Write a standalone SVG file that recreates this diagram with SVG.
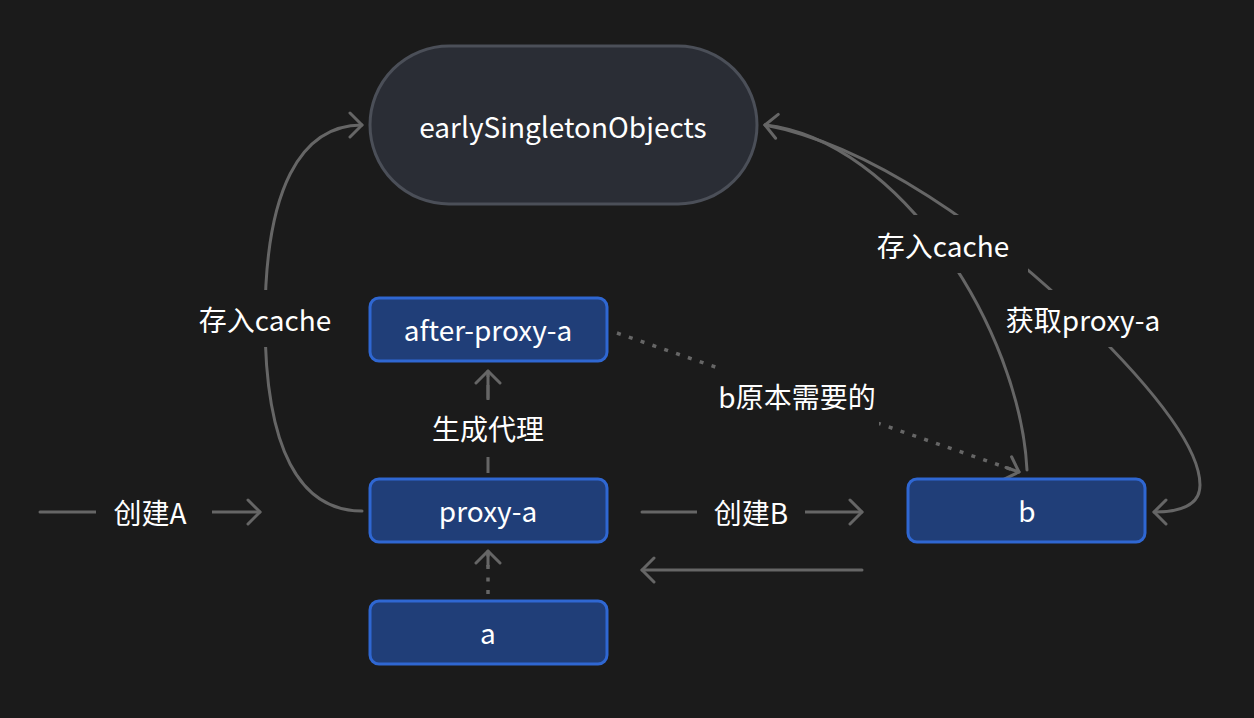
<svg xmlns="http://www.w3.org/2000/svg" width="1254" height="718" viewBox="0 0 1254 718">
<defs>
<style>
.bg{fill:#1b1b1b}
.edge{fill:none;stroke:#666;stroke-width:3;stroke-linecap:round}
.dot{stroke-dasharray:4 8.5;stroke-linecap:butt;stroke-width:3.5}
.dash{stroke-dasharray:16 8;stroke-linecap:butt}
.lbl{fill:#ffffff;font-family:"Noto Sans CJK SC","Noto Sans",sans-serif;font-size:28px;text-anchor:middle;dominant-baseline:central}
.lblbg{fill:#1b1b1b}
.box{fill:#203e78;stroke:#2f67d2;stroke-width:3}
.pill{fill:#2a2d35;stroke:#4b4f58;stroke-width:3}
.txt{fill:#ffffff;font-family:"Noto Sans CJK SC","Noto Sans",sans-serif;font-size:28px;text-anchor:middle;dominant-baseline:central}
</style>
<marker id="arr" markerUnits="userSpaceOnUse" viewBox="-14 -14 16 28" refX="0" refY="0" markerWidth="16" markerHeight="28" orient="auto">
<path d="M-12,-12 L0,0 L-12,12" fill="none" stroke="#666" stroke-width="3" stroke-linecap="round" stroke-linejoin="round"/>
</marker>
</defs>
<rect class="bg" x="0" y="0" width="1254" height="718"/>
<g id="connectors">
<path class="edge" d="M40,512 L260,512" marker-end="url(#arr)"/>
<path class="edge" d="M642,512 L862,512" marker-end="url(#arr)"/>
<path class="edge" d="M862,570 L642,570" marker-end="url(#arr)"/>
<path class="edge" d="M362,511 C300,511 265,450 265,320 C265,190 300,125 362,125" marker-end="url(#arr)"/>
<path class="edge dash" d="M488,473 L488,371"/>
<path class="edge" d="M488,398 L488,371" marker-end="url(#arr)"/>
<path class="edge dot" d="M488,594 L488,552"/>
<path class="edge" d="M488,566 L488,551" marker-end="url(#arr)"/>
<path class="edge dot" d="M617,333 L1019,472"/>
<path class="edge" d="M1006,467.5 L1019,472" marker-end="url(#arr)"/>
<path class="edge" d="M1027,470 C1020,330 900,140 765,125" marker-end="url(#arr)"/>
<path class="edge" d="M765,125 C870,145 990,230 1083,320 C1160,395 1200,450 1200,485 C1200,505 1180,512 1154,512" marker-end="url(#arr)"/>
<g class="label"><rect class="lblbg" x="96" y="495" width="116" height="34"/><text class="lbl" x="150" y="512">创建A</text></g>
<g class="label"><rect class="lblbg" x="697" y="495" width="108" height="34"/><text class="lbl" x="751" y="512">创建B</text></g>
<g class="label"><rect class="lblbg" x="420" y="400" width="136" height="55"/><text class="lbl" x="488" y="428">生成代理</text></g>
<g class="label"><rect class="lblbg" x="195" y="290" width="140" height="57"/><text class="lbl" x="265" y="319">存入cache</text></g>
<g class="label"><rect class="lblbg" x="858" y="215" width="170" height="58"/><text class="lbl" x="943" y="245">存入cache</text></g>
<g class="label"><rect class="lblbg" x="1000" y="290" width="168" height="57"/><text class="lbl" x="1083" y="319">获取proxy-a</text></g>
<g class="label"><rect class="lblbg" x="715" y="368" width="164" height="59"/><text class="lbl" x="797" y="396">b原本需要的</text></g>
</g>
<g id="node-early">
<rect class="pill" x="370" y="46" width="387" height="158" rx="79" ry="79"/>
<text class="txt" x="563" y="126">earlySingletonObjects</text>
</g>
<g id="node-after-proxy-a">
<rect class="box" x="370" y="298" width="237" height="63" rx="9" ry="9"/>
<text class="txt" x="488" y="329">after-proxy-a</text>
</g>
<g id="node-proxy-a">
<rect class="box" x="370" y="479" width="237" height="63" rx="9" ry="9"/>
<text class="txt" x="488" y="510">proxy-a</text>
</g>
<g id="node-a">
<rect class="box" x="370" y="601" width="237" height="63" rx="9" ry="9"/>
<text class="txt" x="488" y="632">a</text>
</g>
<g id="node-b">
<rect class="box" x="908" y="479" width="237" height="63" rx="9" ry="9"/>
<text class="txt" x="1027" y="510">b</text>
</g>
</svg>
